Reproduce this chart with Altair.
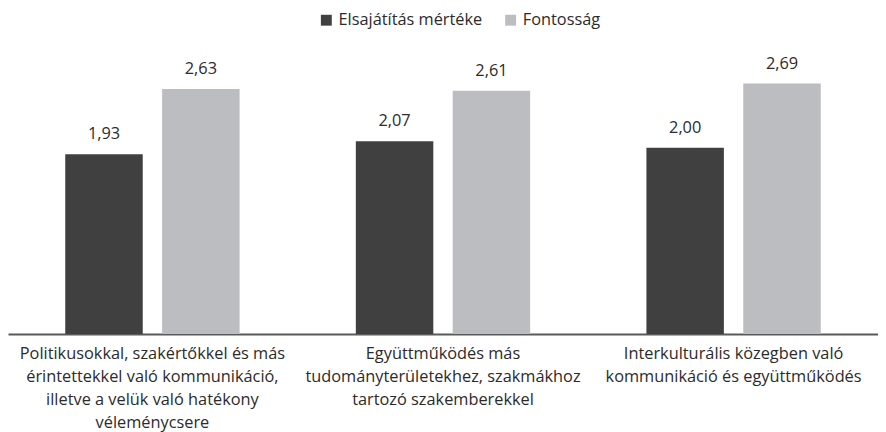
import altair as alt
import pandas as pd

categories = [
    "Politikusokkal, szakértőkkel és más|érintettekkel való kommunikáció,|illetve a velük való hatékony|véleménycsere",
    "Együttműködés más|tudományterületekhez, szakmákhoz|tartozó szakemberekkel",
    "Interkulturális közegben való|kommunikáció és együttműködés",
]
series = ["Elsajátítás mértéke", "Fontosság"]
elsajatitas = [1.93, 2.07, 2.00]
fontossag = [2.63, 2.61, 2.69]

rows = []
for i, c in enumerate(categories):
    rows.append({"cat": c, "series": series[0], "value": elsajatitas[i], "label": f"{elsajatitas[i]:.2f}".replace(".", ",")})
    rows.append({"cat": c, "series": series[1], "value": fontossag[i], "label": f"{fontossag[i]:.2f}".replace(".", ",")})
df = pd.DataFrame(rows)

FONT = "Open Sans"
TXT = "#2b2b2b"

x = alt.X("cat:N", sort=categories,
          scale=alt.Scale(paddingInner=0.40, paddingOuter=0.197),
          axis=alt.Axis(title=None, labelAngle=0, ticks=False, domainColor="#5a5a5a", domainWidth=2,
                        labelExpr="split(datum.label, '|')", labelFont=FONT, labelFontSize=16.5,
                        labelColor=TXT, labelLineHeight=23, labelPadding=12, labelBaseline="top",
                        labelLimit=400))
y = alt.Y("value:Q", scale=alt.Scale(domain=[0, 3]), axis=None)
xo = alt.XOffset("series:N", sort=series, scale=alt.Scale(paddingInner=0.2))

base = alt.Chart(df)
bars = base.mark_bar().encode(
    x=x, y=y, xOffset=xo,
    color=alt.Color("series:N", sort=series,
                    scale=alt.Scale(domain=series, range=["#404040", "#bcbdc0"]),
                    legend=alt.Legend(title=None, orient="none", direction="horizontal",
                                      legendX=313, legendY=-43, symbolType="square", symbolSize=121,
                                      symbolStrokeWidth=0, labelFont=FONT, labelFontSize=16.5,
                                      labelColor=TXT, columnPadding=20, labelOffset=4)),
)
texts = base.mark_text(dy=-20, font=FONT, fontSize=16.5, color=TXT).encode(
    x=x, y=y, xOffset=xo, text="label:N"
)

chart = (bars + texts).properties(
    width=878, height=282,
    padding={"left": 0, "top": 2, "right": 0, "bottom": 0},
).configure_view(stroke=None)

chart.save("out.html", embed_options={"renderer": "svg", "actions": False})
